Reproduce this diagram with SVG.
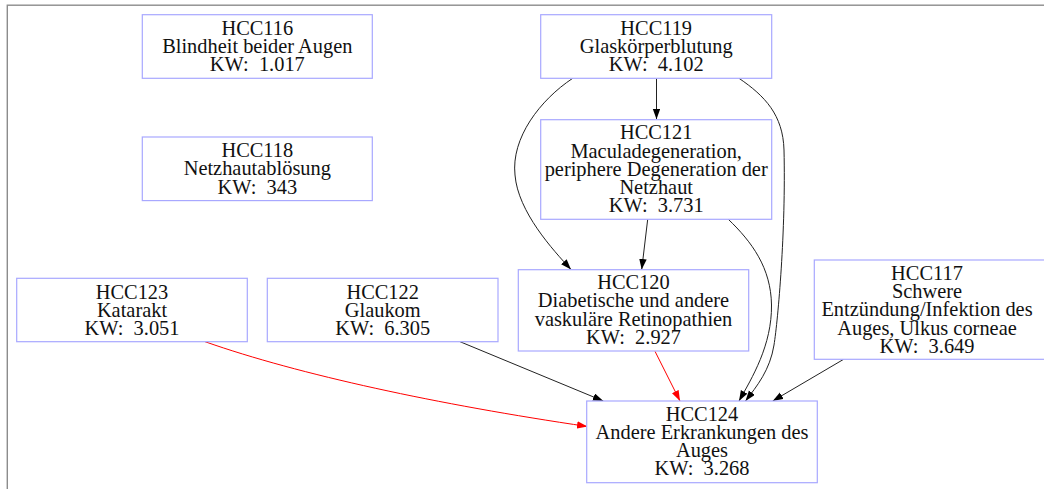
<svg xmlns="http://www.w3.org/2000/svg" width="1044" height="489" viewBox="0 0 1044 489">
  <style>
    .frame { fill: none; stroke: #8c8c8c; stroke-width: 1.4; }
    .node rect { fill: #ffffff; stroke: #a8a8ff; stroke-width: 1.2; }
    .node text { font-family: "Liberation Serif", "Times New Roman", serif; font-size: 20.4px; fill: #111111; text-anchor: middle; white-space: pre; }
    .edge { fill: none; stroke: #222222; stroke-width: 1; }
    .edge.red { stroke: #ff0000; }
  </style>
  <defs>
    <marker id="arrow" markerUnits="userSpaceOnUse" markerWidth="11" markerHeight="8" refX="10.5" refY="3.75" orient="auto">
      <path d="M0,0 L10.5,3.75 L0,7.5 z" fill="#000000"/>
    </marker>
    <marker id="arrow-red" markerUnits="userSpaceOnUse" markerWidth="11" markerHeight="8" refX="10.5" refY="3.75" orient="auto">
      <path d="M0,0 L10.5,3.75 L0,7.5 z" fill="#ff0000"/>
    </marker>
  </defs>

  <rect class="frame" x="7.3" y="5.2" width="1100" height="500"/>

  <g id="connectors">
    <path class="edge" d="M656.5,78.3 L656.5,119.3" marker-end="url(#arrow)"/>
    <path class="edge" d="M572.7,78.3 C540,100 511,138 515,175 C518,212 553,250 571,269.5" marker-end="url(#arrow)"/>
    <path class="edge" d="M647.7,219.3 L641.7,269.5" marker-end="url(#arrow)"/>
    <path class="edge" d="M739,78.3 C765,96 783,115 784,150 C786,230 778,320 774,345 C770,370 757,386 745.5,401" marker-end="url(#arrow)"/>
    <path class="edge" d="M728.3,219.3 C752,242 771,268 771.5,305 C772,345 752,378 739,401" marker-end="url(#arrow)"/>
    <path class="edge red" d="M655,351.3 L680,401" marker-end="url(#arrow-red)"/>
    <path class="edge" d="M460,341.7 L603.3,401" marker-end="url(#arrow)"/>
    <path class="edge" d="M843.3,359.5 L772.7,401" marker-end="url(#arrow)"/>
    <path class="edge red" d="M205,341.7 C300,375 438,404.5 587.5,426.5" marker-end="url(#arrow-red)"/>
  </g>

  <g id="HCC116" class="node">
    <rect x="142.3" y="14.7" width="230" height="63.6"/>
    <text x="257.3" y="34.7">HCC116</text>
    <text x="257.3" y="53">Blindheit beider Augen</text>
    <text x="257.3" y="71.2">KW:  1.017</text>
  </g>

  <g id="HCC118" class="node">
    <rect x="142.3" y="137" width="230" height="63.6"/>
    <text x="257.3" y="157.2">HCC118</text>
    <text x="257.3" y="175.4">Netzhautablösung</text>
    <text x="257.3" y="193.6">KW:  343</text>
  </g>

  <g id="HCC119" class="node">
    <rect x="540.7" y="14.7" width="231" height="63.6"/>
    <text x="656.2" y="34.9">HCC119</text>
    <text x="656.2" y="53.1">Glaskörperblutung</text>
    <text x="656.2" y="71.3">KW:  4.102</text>
  </g>

  <g id="HCC121" class="node">
    <rect x="540.7" y="119.7" width="231" height="99.6"/>
    <text x="656.2" y="139.4">HCC121</text>
    <text x="656.2" y="157.6">Maculadegeneration,</text>
    <text x="656.2" y="175.8">periphere Degeneration der</text>
    <text x="656.2" y="194">Netzhaut</text>
    <text x="656.2" y="212.2">KW:  3.731</text>
  </g>

  <g id="HCC120" class="node">
    <rect x="518.3" y="269.7" width="230.4" height="81.3"/>
    <text x="633.5" y="289.2">HCC120</text>
    <text x="633.5" y="307.4">Diabetische und andere</text>
    <text x="633.5" y="325.6">vaskuläre Retinopathien</text>
    <text x="633.5" y="343.8">KW:  2.927</text>
  </g>

  <g id="HCC117" class="node">
    <rect x="814.3" y="260" width="240" height="99.3"/>
    <text x="927" y="279.9">HCC117</text>
    <text x="927" y="298.1">Schwere</text>
    <text x="927" y="316.3">Entzündung/Infektion des</text>
    <text x="927" y="334.5">Auges, Ulkus corneae</text>
    <text x="927" y="352.7">KW:  3.649</text>
  </g>

  <g id="HCC123" class="node">
    <rect x="16.7" y="278.3" width="230.6" height="63.4"/>
    <text x="132" y="298.5">HCC123</text>
    <text x="132" y="316.7">Katarakt</text>
    <text x="132" y="334.9">KW:  3.051</text>
  </g>

  <g id="HCC122" class="node">
    <rect x="267.3" y="278.3" width="230.7" height="63.4"/>
    <text x="382.7" y="298.5">HCC122</text>
    <text x="382.7" y="316.7">Glaukom</text>
    <text x="382.7" y="334.9">KW:  6.305</text>
  </g>

  <g id="HCC124" class="node">
    <rect x="586.7" y="401" width="230.6" height="81.7"/>
    <text x="702" y="420.8">HCC124</text>
    <text x="702" y="439">Andere Erkrankungen des</text>
    <text x="702" y="457.2">Auges</text>
    <text x="702" y="475.4">KW:  3.268</text>
  </g>
</svg>
